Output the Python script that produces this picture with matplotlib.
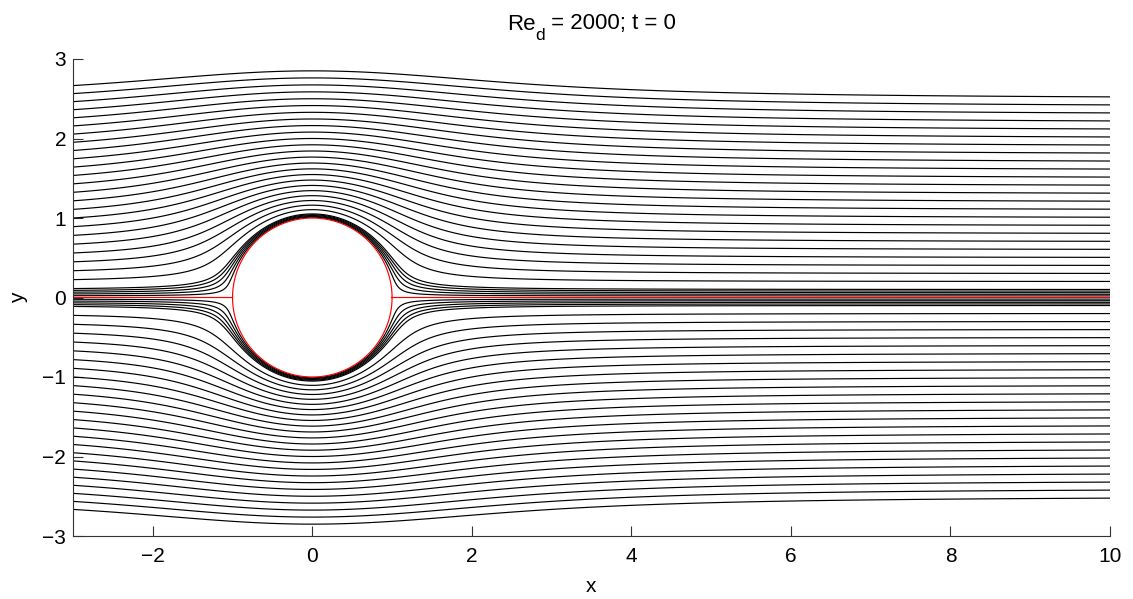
import numpy as np
import matplotlib
matplotlib.use("Agg")
import matplotlib.pyplot as plt

plt.rcParams['font.family'] = ['Liberation Sans', 'DejaVu Sans']

# ---- data ----
title_main = "Re"
title_sub = "d"
title_rest = " = 2000; t = 0"
cyl_radius = 1.0
free_stream = 1.0
x_limits = [-3, 10]
y_limits = [-3, 3]
x_ticks = [-2, 0, 2, 4, 6, 8, 10]
y_ticks = [-3, -2, -1, 0, 1, 2, 3]
# stream-function values of the drawn streamlines (upper half; mirrored below)
main_levels = [0.1, 0.2, 0.3, 0.4, 0.5, 0.6, 0.7, 0.8, 0.9, 1.0,
               1.1, 1.2, 1.3, 1.4, 1.5, 1.6, 1.7, 1.8, 1.9, 2.0,
               2.1, 2.2, 2.3, 2.4, 2.5]
fine_levels = [0.02, 0.04, 0.06, 0.08]

# ---- stream function of potential flow past the cylinder ----
xg = np.linspace(x_limits[0], x_limits[1], 2601)
yg = np.linspace(y_limits[0], y_limits[1], 1200)
X, Y = np.meshgrid(xg, yg)
R2 = X**2 + Y**2
PSI = free_stream * Y * (1 - cyl_radius**2 / R2)
PSI = np.ma.masked_where(R2 < cyl_radius**2, PSI)

pos = sorted(set(main_levels + fine_levels))
levels = sorted([-v for v in pos] + pos)

W, H = 1133, 599
fig = plt.figure(figsize=(W/100, H/100), dpi=100)
ax = fig.add_axes([73/W, 1-536/H, (1110-73)/W, (536-59)/H])

ax.contour(X, Y, PSI, levels=levels, colors='black', linewidths=0.85,
           linestyles='solid')
ax.contour(X, Y, PSI, levels=[0.0], colors='red', linewidths=0.85)
th = np.linspace(0, 2*np.pi, 721)
ax.plot(cyl_radius*np.cos(th), cyl_radius*np.sin(th), color='red', lw=0.85)

ax.set_xlim(x_limits)
ax.set_ylim(y_limits)
ax.set_xticks(x_ticks)
ax.set_yticks(y_ticks)
ax.set_xticklabels([f"{v}".replace('-', '\u2212') for v in x_ticks])
ax.set_yticklabels([f"{v}".replace('-', '\u2212') for v in y_ticks])
ax.spines['top'].set_visible(False)
ax.spines['right'].set_visible(False)
for s in ('left', 'bottom'):
    ax.spines[s].set_linewidth(0.8)
    ax.spines[s].set_color('#333333')
ax.tick_params(direction='in', length=7, width=0.8, color='#333333',
               labelsize=15)
ax.tick_params(axis='x', pad=8)
ax.tick_params(axis='y', pad=5)
ax.set_xlabel('x', fontsize=15, labelpad=8)
ax.set_ylabel('y', fontsize=15, labelpad=10)

# title with a lowered subscript (MATLAB style)
base_y = 1 - 29.5/H
t1 = fig.text(0, base_y, title_main, fontsize=16, va='baseline', ha='left')
t2 = fig.text(0, base_y - 10.5/H, title_sub, fontsize=12.5, va='baseline', ha='left')
t3 = fig.text(0, base_y, title_rest, fontsize=16, va='baseline', ha='left')
fig.canvas.draw()
r = fig.canvas.get_renderer()
w1 = t1.get_window_extent(r).width
w2 = t2.get_window_extent(r).width
w3 = t3.get_window_extent(r).width
gap = 0
total = w1 + gap + w2 + w3
center = (73 + 1110) / 2
x0 = center - total / 2
t1.set_x(x0 / W)
t2.set_x((x0 + w1 + gap) / W)
t3.set_x((x0 + w1 + gap + w2) / W)

fig.savefig('out.png', dpi=100)
